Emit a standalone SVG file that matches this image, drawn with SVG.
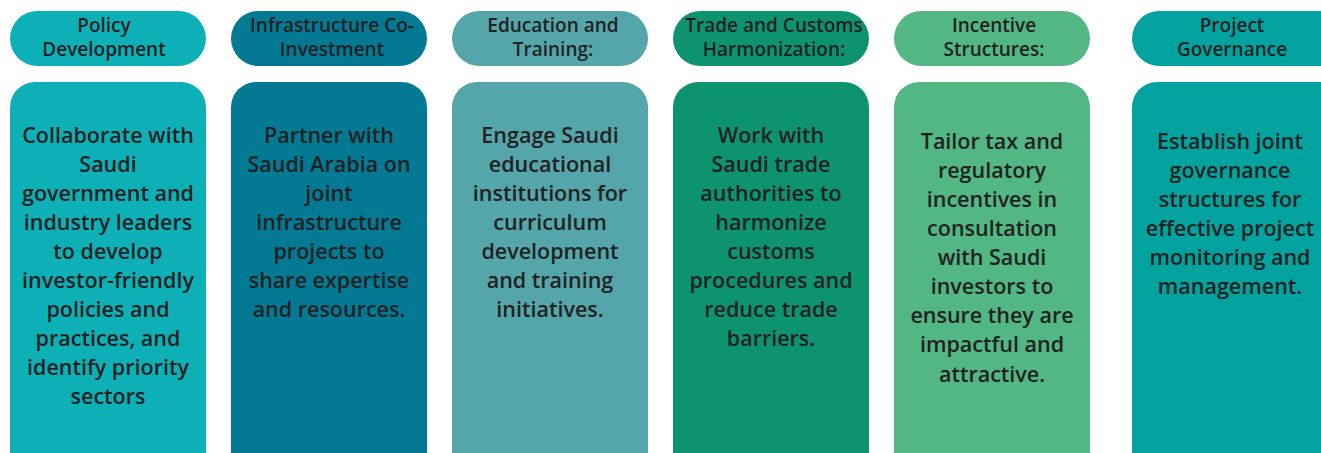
<svg xmlns="http://www.w3.org/2000/svg" width="1321" height="453" viewBox="0 0 1321 453">
<style>
.h{font-family:"Open Sans","Liberation Sans",sans-serif;font-size:19px;font-weight:600;fill:#222;text-anchor:middle}
.b{font-family:"Open Sans","Liberation Sans",sans-serif;font-size:21.5px;font-weight:600;fill:#222;text-anchor:middle}
</style>
<rect width="1321" height="453" fill="#fff"/>
<g id="policy">
<rect x="10" y="11" width="196" height="55" rx="27.5" fill="#0eb0b8"/>
<text class="h" x="104"><tspan x="104" y="32">Policy</tspan><tspan x="104" y="56">Development</tspan></text>
<rect x="10" y="82" width="196" height="400" rx="25" fill="#0eb0b8"/>
<text class="b"><tspan x="108" y="143">Collaborate with</tspan><tspan x="108" y="172">Saudi</tspan><tspan x="108" y="201">government and</tspan><tspan x="108" y="230">industry leaders</tspan><tspan x="108" y="259">to develop</tspan><tspan x="108" y="288">investor-friendly</tspan><tspan x="108" y="317">policies and</tspan><tspan x="108" y="346">practices, and</tspan><tspan x="108" y="375">identify priority</tspan><tspan x="108" y="404">sectors</tspan></text>
</g>
<g id="infrastructure">
<rect x="231" y="11" width="196" height="55" rx="27.5" fill="#037994"/>
<text class="h"><tspan x="332" y="32">Infrastructure Co-</tspan><tspan x="332" y="56">Investment</tspan></text>
<rect x="231" y="82" width="196" height="400" rx="25" fill="#037994"/>
<text class="b"><tspan x="329" y="143">Partner with</tspan><tspan x="329" y="172">Saudi Arabia on</tspan><tspan x="329" y="201">joint</tspan><tspan x="329" y="230">infrastructure</tspan><tspan x="329" y="259">projects to</tspan><tspan x="329" y="288">share expertise</tspan><tspan x="329" y="317">and resources.</tspan></text>
</g>
<g id="education">
<rect x="452" y="11" width="196" height="55" rx="27.5" fill="#55a6aa"/>
<text class="h"><tspan x="553" y="32">Education and</tspan><tspan x="553" y="56">Training:</tspan></text>
<rect x="452" y="82" width="196" height="400" rx="25" fill="#55a6aa"/>
<text class="b"><tspan x="550" y="143">Engage Saudi</tspan><tspan x="550" y="172">educational</tspan><tspan x="550" y="201">institutions for</tspan><tspan x="550" y="230">curriculum</tspan><tspan x="550" y="259">development</tspan><tspan x="550" y="288">and training</tspan><tspan x="550" y="317">initiatives.</tspan></text>
</g>
<g id="trade">
<rect x="673" y="11" width="196" height="55" rx="27.5" fill="#0d9370"/>
<text class="h"><tspan x="774" y="32">Trade and Customs</tspan><tspan x="774" y="56">Harmonization:</tspan></text>
<rect x="673" y="82" width="196" height="400" rx="25" fill="#0d9370"/>
<text class="b"><tspan x="771" y="143">Work with</tspan><tspan x="771" y="172">Saudi trade</tspan><tspan x="771" y="201">authorities to</tspan><tspan x="771" y="230">harmonize</tspan><tspan x="771" y="259">customs</tspan><tspan x="771" y="288">procedures and</tspan><tspan x="771" y="317">reduce trade</tspan><tspan x="771" y="346">barriers.</tspan></text>
</g>
<g id="incentive">
<rect x="894" y="11" width="196" height="55" rx="27.5" fill="#52b783"/>
<text class="h"><tspan x="994" y="32">Incentive</tspan><tspan x="994" y="56">Structures:</tspan></text>
<rect x="894" y="82" width="196" height="400" rx="25" fill="#52b783"/>
<text class="b"><tspan x="992" y="149">Tailor tax and</tspan><tspan x="992" y="178">regulatory</tspan><tspan x="992" y="207">incentives in</tspan><tspan x="992" y="236">consultation</tspan><tspan x="992" y="265">with Saudi</tspan><tspan x="992" y="294">investors to</tspan><tspan x="992" y="323">ensure they are</tspan><tspan x="992" y="352">impactful and</tspan><tspan x="992" y="382">attractive.</tspan></text>
</g>
<g id="governance">
<rect x="1132" y="11" width="220" height="55" rx="27.5" fill="#02a39e"/>
<text class="h"><tspan x="1232" y="32">Project</tspan><tspan x="1232" y="56">Governance</tspan></text>
<rect x="1132" y="82" width="220" height="400" rx="25" fill="#02a39e"/>
<text class="b"><tspan x="1230" y="149">Establish joint</tspan><tspan x="1230" y="178">governance</tspan><tspan x="1230" y="207">structures for</tspan><tspan x="1230" y="236">effective project</tspan><tspan x="1230" y="265">monitoring and</tspan><tspan x="1230" y="294">management.</tspan></text>
</g>
<g id="connectors"></g>
</svg>
